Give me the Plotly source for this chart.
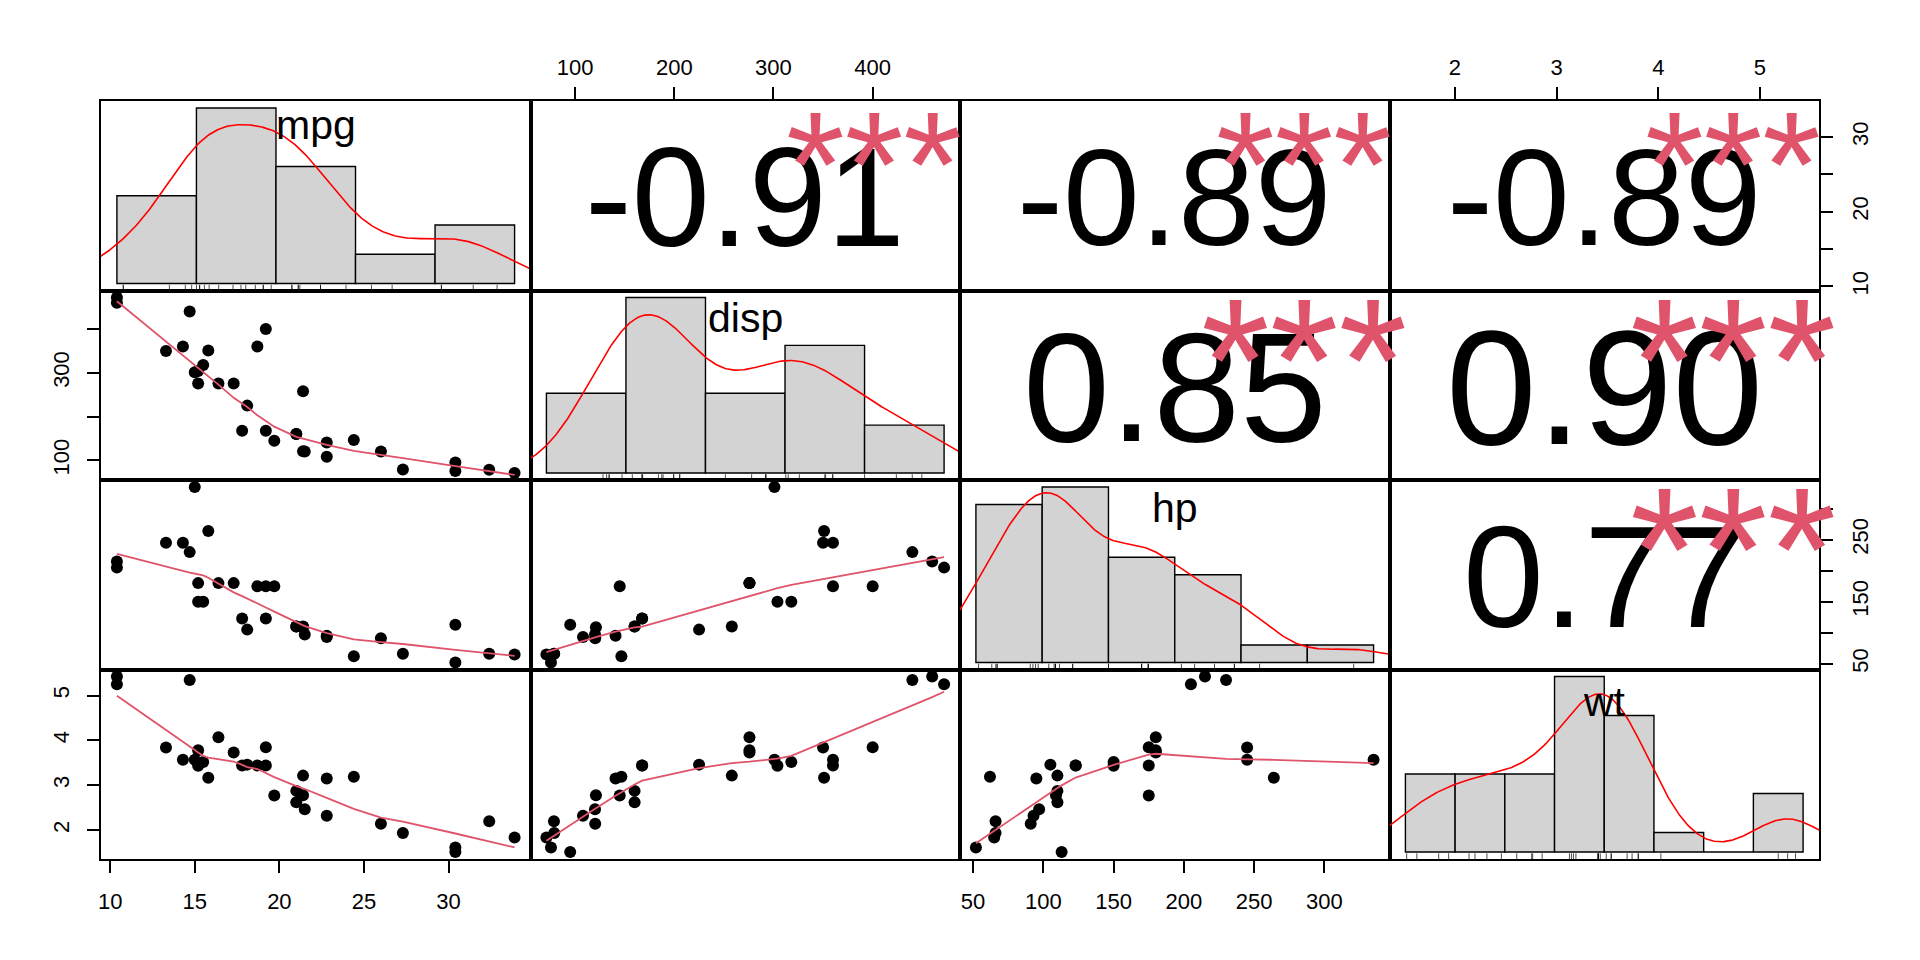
import numpy as np
import plotly.graph_objects as go

# mtcars columns used in the chart
names = ["mpg", "disp", "hp", "wt"]
mpg = [21.0, 21.0, 22.8, 21.4, 18.7, 18.1, 14.3, 24.4, 22.8, 19.2, 17.8, 16.4, 17.3, 15.2, 10.4, 10.4,
       14.7, 32.4, 30.4, 33.9, 21.5, 15.5, 15.2, 13.3, 19.2, 27.3, 26.0, 30.4, 15.8, 19.7, 15.0, 21.4]
disp = [160.0, 160.0, 108.0, 258.0, 360.0, 225.0, 360.0, 146.7, 140.8, 167.6, 167.6, 275.8, 275.8, 275.8,
        472.0, 460.0, 440.0, 78.7, 75.7, 71.1, 120.1, 318.0, 304.0, 350.0, 400.0, 79.0, 120.3, 95.1,
        351.0, 145.0, 301.0, 121.0]
hp = [110, 110, 93, 110, 175, 105, 245, 62, 95, 123, 123, 180, 180, 180, 205, 215, 230, 66, 52, 65, 97,
      150, 150, 245, 175, 66, 91, 113, 264, 175, 335, 109]
wt = [2.620, 2.875, 2.320, 3.215, 3.440, 3.460, 3.570, 3.190, 3.150, 3.440, 3.440, 4.070, 3.730, 3.780,
      5.250, 5.424, 5.345, 2.200, 1.615, 1.835, 2.465, 3.520, 3.435, 3.840, 3.845, 1.935, 2.140, 1.513,
      3.170, 2.770, 3.570, 2.780]
data = [mpg, disp, hp, wt]

# histogram breaks seen on the diagonal
breaks = [
    [10, 15, 20, 25, 30, 35],
    [0, 100, 200, 300, 400, 500],
    [50, 100, 150, 200, 250, 300, 350],
    [1.5, 2.0, 2.5, 3.0, 3.5, 4.0, 4.5, 5.0, 5.5],
]

# upper panels: (row, col) -> correlation label and stars
corr_cells = [(0, 1), (0, 2), (0, 3), (1, 2), (1, 3), (2, 3)]
corr_text = ["-0.91", "-0.89", "-0.89", "0.85", "0.90", "0.77"]
corr_stars = ["***", "***", "***", "***", "***", "***"]

# axis ticks
tick_vals = [[10, 15, 20, 25, 30], [100, 200, 300, 400], [50, 100, 150, 200, 250, 300], [2, 3, 4, 5]]
tick_text_h = [["10", "15", "20", "25", "30"], ["100", "200", "300", "400"],
               ["50", "100", "150", "200", "250", "300"], ["2", "3", "4", "5"]]
tick_text_v = [["10", "", "20", "", "30"], ["100", "", "300", ""],
               ["50", "", "150", "", "250", ""], ["2", "3", "4", "5"]]

W, H = 1920, 960
M = 101
OFF = 8  # page body margin shifts the figure
PW = (W - 2 * M) / 4
PH = (H - 2 * M) / 4
FONT = "Liberation Sans, Arial, Helvetica, sans-serif"
SMOOTH = "#DF536B"
LW = 1.6
TICKFS = 22

EM = {"-": 0.333, ".": 0.278, "*": 0.389}


def em_width(s):
    return sum(EM.get(c, 0.556) for c in s)


def pad_range(v):
    lo, hi = min(v), max(v)
    d = (hi - lo) * 0.04
    return [lo - d, hi + d]


def density(v):
    v = np.asarray(v, float)
    n = len(v)
    q75, q25 = np.percentile(v, [75, 25])
    bw = 0.9 * min(v.std(ddof=1), (q75 - q25) / 1.34) * n ** -0.2
    gx = np.linspace(v.min() - 3 * bw, v.max() + 3 * bw, 512)
    gy = np.exp(-0.5 * ((gx[:, None] - v[None, :]) / bw) ** 2).sum(1) / (n * bw * np.sqrt(2 * np.pi))
    return gx, gy


def _lowest(x, y, xs, nleft, nright, rw, userw):
    n = len(x)
    rng = x[-1] - x[0]
    h = max(xs - x[nleft], x[nright] - xs)
    h9, h1 = 0.999 * h, 0.001 * h
    w = np.zeros(n)
    a = 0.0
    j = nleft
    while j < n:
        r = abs(x[j] - xs)
        if r <= h9:
            w[j] = 1.0 if r <= h1 else (1 - (r / h) ** 3) ** 3
            if userw:
                w[j] *= rw[j]
            a += w[j]
        elif x[j] > xs:
            break
        j += 1
    nrt = j - 1
    if a <= 0:
        return 0.0, False
    sl = slice(nleft, nrt + 1)
    w[sl] /= a
    if h > 0:
        a = np.sum(w[sl] * x[sl])
        b = xs - a
        c = np.sum(w[sl] * (x[sl] - a) ** 2)
        if np.sqrt(c) > 0.001 * rng:
            b /= c
            w[sl] *= b * (x[sl] - a) + 1
    return float(np.sum(w[sl] * y[sl])), True


def lowess(xv, yv, f=2 / 3, iters=3):
    order = np.argsort(xv, kind="stable")
    x = np.asarray(xv, float)[order]
    y = np.asarray(yv, float)[order]
    n = len(x)
    delta = 0.01 * (x[-1] - x[0])
    ns = max(2, min(n, int(f * n + 1e-7)))
    ys = np.zeros(n)
    rw = np.ones(n)
    for it in range(iters + 1):
        nleft, nright, last, i = 0, ns - 1, -1, 0
        while True:
            if nright < n - 1:
                if x[i] - x[nleft] > x[nright + 1] - x[i]:
                    nleft += 1
                    nright += 1
                    continue
            fit, ok = _lowest(x, y, x[i], nleft, nright, rw, it > 0)
            ys[i] = fit if ok else y[i]
            if last < i - 1:
                denom = x[i] - x[last]
                for j in range(last + 1, i):
                    alpha = (x[j] - x[last]) / denom
                    ys[j] = alpha * ys[i] + (1 - alpha) * ys[last]
            last = i
            cut = x[last] + delta
            i = last + 1
            while i < n:
                if x[i] > cut:
                    break
                if x[i] == x[last]:
                    ys[i] = ys[last]
                    last = i
                i += 1
            i = max(last + 1, i - 1)
            if last >= n - 1:
                break
        res = y - ys
        if it == iters:
            break
        sc = np.sum(np.abs(res)) / n
        r = np.abs(res)
        cmad = 6 * np.median(r)
        if cmad < 1e-7 * sc:
            break
        rw = np.where(r <= 0.001 * cmad, 1.0, np.where(r <= 0.999 * cmad, (1 - (r / cmad) ** 2) ** 2, 0.0))
    return x, ys


def ink_shift(s, fs):
    # plotly centres the text box; R centres the ink
    if s and set(s) == {"*"}:
        return -0.175 * fs
    asc = 0.716 if any(c in "bdfhklit0123456789" for c in s) else 0.53
    desc = 0.21 if any(c in "gjpqy" for c in s) else 0.0
    return (0.3465 - (asc - desc) / 2) * fs


fig = go.Figure()
layout = dict(width=W, height=H, margin=dict(l=M - OFF, r=M + OFF, t=M - OFF, b=M + OFF),
              paper_bgcolor="white", plot_bgcolor="white", showlegend=False,
              font=dict(family=FONT, color="black", size=TICKFS))
annotations = []

ranges = [pad_range(v) for v in data]

for i in range(4):
    for j in range(4):
        k = i * 4 + j + 1
        xa = "xaxis" if k == 1 else f"xaxis{k}"
        ya = "yaxis" if k == 1 else f"yaxis{k}"
        xr = "x" if k == 1 else f"x{k}"
        yr = "y" if k == 1 else f"y{k}"
        xax = dict(domain=[j / 4, (j + 1) / 4], anchor=yr, range=ranges[j], showgrid=False, zeroline=False,
                   showline=True, linecolor="black", linewidth=LW, mirror=True, ticks="",
                   showticklabels=False, fixedrange=True)
        yax = dict(domain=[1 - (i + 1) / 4, 1 - i / 4], anchor=xr, range=ranges[i], showgrid=False,
                   zeroline=False, showline=True, linecolor="black", linewidth=LW, mirror=True, ticks="",
                   showticklabels=False, fixedrange=True)

        if i == j:
            v = np.asarray(data[i], float)
            br = np.asarray(breaks[i], float)
            idx = np.clip(np.searchsorted(br, v, side="left") - 1, 0, len(br) - 2)
            counts = np.bincount(idx, minlength=len(br) - 1)
            widths = np.diff(br)
            dens = counts / (len(v) * widths)
            mids = (br[:-1] + br[1:]) / 2
            top = dens.max()
            yrng = [-0.04 * top, 1.04 * top]
            span = br[-1] - br[0]
            xax["range"] = [br[0] - 0.04 * span, br[-1] + 0.04 * span]
            yax["range"] = yrng
            fig.add_trace(go.Bar(x=mids, y=dens, width=widths, xaxis=xr, yaxis=yr,
                                 marker=dict(color="#D3D3D3", line=dict(color="black", width=1.4)),
                                 hoverinfo="skip"))
            gx, gy = density(v)
            fig.add_trace(go.Scatter(x=gx, y=gy, mode="lines", xaxis=xr, yaxis=yr,
                                     line=dict(color="red", width=1.6), hoverinfo="skip"))
            r0 = yrng[0]
            r1 = yrng[0] + 0.03 * (yrng[1] - yrng[0])
            rx, ry = [], []
            for val in v:
                rx += [val, val, None]
                ry += [r0, r1, None]
            fig.add_trace(go.Scatter(x=rx, y=ry, mode="lines", xaxis=xr, yaxis=yr,
                                     line=dict(color="black", width=0.7), hoverinfo="skip"))
            fs = 41
            annotations.append(dict(text=names[i], xref=f"{xr} domain", yref=f"{yr} domain", x=0.5,
                                    y=0.833, showarrow=False, xanchor="center", yanchor="middle",
                                    yshift=ink_shift(names[i], fs), font=dict(size=fs, family=FONT)))
        elif i > j:
            fig.add_trace(go.Scatter(x=data[j], y=data[i], mode="markers", xaxis=xr, yaxis=yr,
                                     marker=dict(color="black", size=12), hoverinfo="skip"))
            lx, ly = lowess(data[j], data[i])
            fig.add_trace(go.Scatter(x=lx, y=ly, mode="lines", xaxis=xr, yaxis=yr,
                                     line=dict(color=SMOOTH, width=1.8), hoverinfo="skip"))
        else:
            c = corr_cells.index((i, j))
            txt = corr_text[c]
            base = 0.8 * PW / em_width(txt)
            fs = base * (abs(float(txt)) + 0.3) / 1.3
            annotations.append(dict(text=txt, xref=f"{xr} domain", yref=f"{yr} domain", x=0.5, y=0.5,
                                    showarrow=False, xanchor="center", yanchor="middle",
                                    yshift=ink_shift(txt, fs), font=dict(size=fs, family=FONT)))
            annotations.append(dict(text=corr_stars[c], xref=f"{xr} domain", yref=f"{yr} domain", x=0.8,
                                    y=0.8, showarrow=False, xanchor="center", yanchor="middle",
                                    yshift=ink_shift(corr_stars[c], base),
                                    font=dict(size=base, family=FONT, color=SMOOTH)))
            # empty trace so the panel axes exist
            fig.add_trace(go.Scatter(x=[None], y=[None], xaxis=xr, yaxis=yr, hoverinfo="skip"))

        tick_style = dict(ticks="outside", ticklen=12, tickwidth=LW, tickcolor="black",
                          showticklabels=True, tickfont=dict(size=TICKFS, family=FONT))
        if i == 3 and j % 2 == 0:
            xax.update(tick_style, tickvals=tick_vals[j], ticktext=tick_text_h[j], side="bottom",
                       ticklabelstandoff=10)
        if i == 0 and j % 2 == 1:
            xax.update(tick_style, tickvals=tick_vals[j], ticktext=tick_text_h[j], side="top",
                       ticklabelstandoff=3)
        if j == 0 and i % 2 == 1:
            yax.update(tick_style, tickvals=tick_vals[i], ticktext=tick_text_v[i], side="left",
                       tickangle=-90, ticklabelstandoff=9)
        if j == 3 and i % 2 == 0:
            yax.update(tick_style, tickvals=tick_vals[i], ticktext=tick_text_v[i], side="right",
                       tickangle=-90, ticklabelstandoff=9)

        layout[xa] = xax
        layout[ya] = yax

layout["annotations"] = annotations
fig.update_layout(**layout)
fig.write_html("out.html")
